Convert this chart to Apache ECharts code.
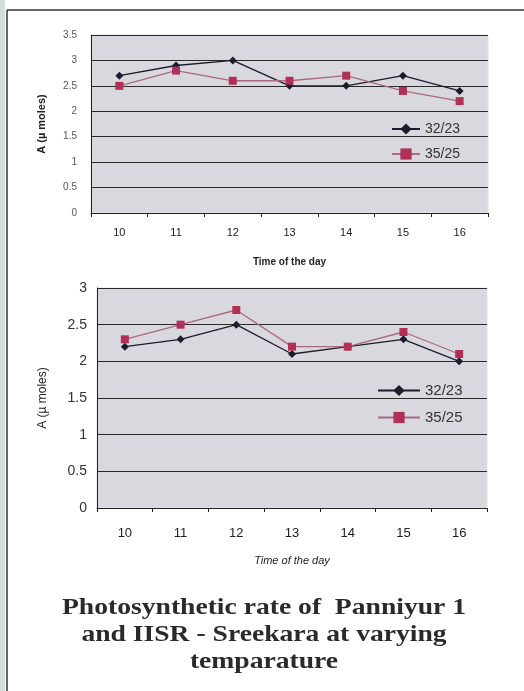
<!DOCTYPE html>
<html><head><meta charset="utf-8">
<script src="https://cdn.jsdelivr.net/npm/echarts@6/dist/echarts.min.js"></script>
<style>html,body{margin:0;padding:0;background:#fff}#c{width:524px;height:691px}</style>
</head><body><div id="c"></div>
<script>
var hours = ['10','11','12','13','14','15','16'];
var seriesNames = ['32/23','35/25'];
// Top chart
var top3223 = [2.7, 2.9, 3.0, 2.5, 2.5, 2.7, 2.4];
var top3525 = [2.5, 2.8, 2.6, 2.6, 2.7, 2.4, 2.2];
// Bottom chart
var bot3223 = [2.2, 2.3, 2.5, 2.1, 2.2, 2.3, 2.0];
var bot3525 = [2.3, 2.5, 2.7, 2.2, 2.2, 2.4, 2.1];
var yName = 'A (µ moles)';
var xName = 'Time of the day';
var titleText = 'Photosynthetic rate of  Panniyur 1\nand IISR - Sreekara at varying\ntemparature';

var darkCol = '#1c1c2c', redLine = '#a86a80', redMark = '#b03058';
var chart = echarts.init(document.getElementById('c'));
function mkSeries(data, name, xi, sym, col, mcol, size){
  return {type:'line', name:name, xAxisIndex:xi, yAxisIndex:xi, data:data,
    symbol:sym, symbolSize:size, lineStyle:{color:col, width:1.3},
    itemStyle:{color:mcol}, animation:false};
}
chart.setOption({
  backgroundColor:'#fff',
  animation:false,
  graphic:[
    {type:'rect', shape:{x:0,y:0,width:5,height:691}, style:{fill:'#cfe0dc'}, silent:true},
    {type:'line', shape:{x1:7,y1:10,x2:524,y2:10}, style:{stroke:'#333', lineWidth:1.5}, silent:true},
    {type:'line', shape:{x1:7,y1:10,x2:7,y2:691}, style:{stroke:'#333', lineWidth:1.5}, silent:true},
    {type:'text', x:264, y:594, scaleX:1.15, originX:0, originY:0,
     style:{text:titleText, align:'center', verticalAlign:'top',
       font:'bold 24px "Liberation Serif"', lineHeight:27, fill:'#2a2a2a'}, silent:true}
  ],
  legend:[
    {orient:'vertical', left:386, top:117, itemGap:11, itemWidth:28, itemHeight:14,
     textStyle:{fontFamily:'Liberation Sans', fontSize:14, color:'#333'},
     data:['32/23','35/25'], selectedMode:false},
    {orient:'vertical', left:372, top:378, itemGap:12, itemWidth:42, itemHeight:14,
     textStyle:{fontFamily:'Liberation Sans', fontSize:15, color:'#333'},
     data:['32/23 ','35/25 '], selectedMode:false}
  ],
  grid:[
    {left:91, right:36, top:35, height:178, show:true, backgroundColor:'#d8d8de', borderColor:'#e4e4e8', borderWidth:1},
    {left:97, right:37, top:288, height:220, show:true, backgroundColor:'#d8d8de', borderColor:'#e4e4e8', borderWidth:1}
  ],
  xAxis:[
    {type:'category', gridIndex:0, data:hours, boundaryGap:true,
     axisLine:{lineStyle:{color:'#222'}}, axisTick:{show:true, length:4, lineStyle:{color:'#222'}},
     axisLabel:{fontFamily:'Liberation Sans', fontSize:11, color:'#222', margin:14},
     name:xName, nameLocation:'middle', nameGap:44,
     nameTextStyle:{fontFamily:'Liberation Sans', fontWeight:'bold', fontSize:10, color:'#222'}},
    {type:'category', gridIndex:1, data:hours, boundaryGap:true,
     axisLine:{lineStyle:{color:'#222'}}, axisTick:{show:true, length:4, lineStyle:{color:'#222'}},
     axisLabel:{fontFamily:'Liberation Sans', fontSize:13, color:'#222', margin:19},
     name:xName, nameLocation:'middle', nameGap:47,
     nameTextStyle:{fontFamily:'Liberation Sans', fontStyle:'italic', fontSize:11, color:'#222'}}
  ],
  yAxis:[
    {type:'value', gridIndex:0, min:0, max:3.5, interval:0.5,
     axisLine:{show:true, lineStyle:{color:'#222'}}, axisTick:{show:false},
     splitLine:{lineStyle:{color:'#2a2a2a', width:1}},
     axisLabel:{fontFamily:'Liberation Sans', fontSize:10, color:'#555', margin:14},
     name:yName, nameLocation:'middle', nameGap:44,
     nameTextStyle:{fontFamily:'Liberation Sans', fontWeight:'bold', fontSize:11, color:'#222'}},
    {type:'value', gridIndex:1, min:0, max:3, interval:0.5,
     axisLine:{show:true, lineStyle:{color:'#222'}}, axisTick:{show:false},
     splitLine:{lineStyle:{color:'#2a2a2a', width:1}},
     axisLabel:{fontFamily:'Liberation Sans', fontSize:14, color:'#333', margin:10},
     name:yName, nameLocation:'middle', nameGap:48,
     nameTextStyle:{fontFamily:'Liberation Sans', fontSize:12, color:'#222'}}
  ],
  series:[
    mkSeries(top3223, seriesNames[0], 0, 'diamond', darkCol, darkCol, 8),
    mkSeries(top3525, seriesNames[1], 0, 'rect', redLine, redMark, 8),
    mkSeries(bot3223, seriesNames[0]+' ', 1, 'diamond', darkCol, darkCol, 8),
    mkSeries(bot3525, seriesNames[1]+' ', 1, 'rect', redLine, redMark, 8)
  ]
});
</script></body></html>
